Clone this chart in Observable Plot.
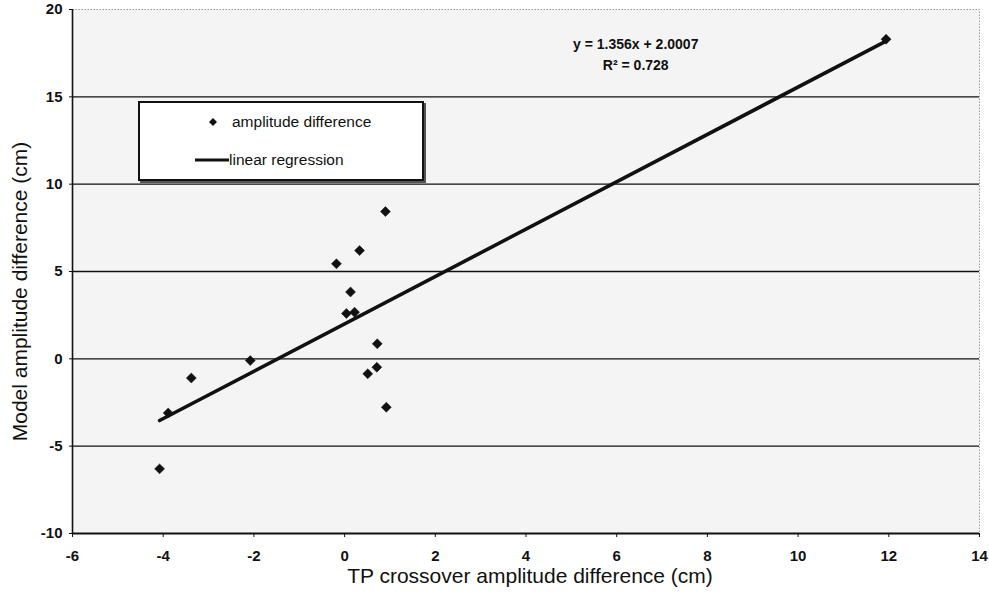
<!DOCTYPE html>
<html>
<head>
<meta charset="utf-8">
<script src="https://cdn.jsdelivr.net/npm/d3@7"></script>
<script src="https://cdn.jsdelivr.net/npm/@observablehq/plot@0.6"></script>
<style>
  html, body { margin: 0; padding: 0; background: #fff; }
  #wrap { position: relative; width: 989px; height: 603px; font-family: "Liberation Sans", Arial, sans-serif; }
  #chart g[aria-label="x-axis tick label"], #chart g[aria-label="y-axis tick label"] { font-size: 15px; font-weight: bold; }
  #legend {
    position: absolute; left: 138px; top: 101px; width: 282px; height: 76px;
    border: 2px solid #111; background: #fff; box-shadow: 2px 2px 0 #555;
    font-size: 15.5px; color: #111;
  }
  #legend .row { position: absolute; display: flex; align-items: center; }
  #legend svg { display: block; }
</style>
</head>
<body>
<div id="wrap">
  <div id="chart"></div>
  <div id="legend">
    <div class="row" style="left:64px; top:10px;">
      <svg width="18" height="14"><path d="M9,3 L13,7 L9,11 L5,7 Z" fill="#111"/></svg>
      <span style="margin-left:10px">amplitude difference</span>
    </div>
    <div class="row" style="left:55px; top:48px;">
      <svg width="34" height="10"><line x1="0" y1="5" x2="34" y2="5" stroke="#111" stroke-width="3"/></svg>
      <span>linear regression</span>
    </div>
  </div>
</div>
<script>
// Data
const xValues = [-4.08, -3.89, -3.38, -2.08, -0.18, 0.04, 0.13, 0.22, 0.33, 0.51, 0.71, 0.72, 0.90, 0.92, 11.94];
const yValues = [-6.3, -3.1, -1.1, -0.1, 5.44, 2.6, 3.83, 2.67, 6.2, -0.86, -0.48, 0.86, 8.43, -2.77, 18.3];
const slope = 1.356;
const intercept = 2.0007;
const rSquared = 0.728;
const xTicks = [-6, -4, -2, 0, 2, 4, 6, 8, 10, 12, 14];
const yTicks = [-10, -5, 0, 5, 10, 15, 20];
const gridValues = [-5, 0, 5, 10, 15];
const xLabel = "TP crossover amplitude difference (cm)";
const yLabel = "Model amplitude difference (cm)";

const points = xValues.map((x, i) => ({x, y: yValues[i]}));
const xMin = d3.min(xValues), xMax = d3.max(xValues);
const fitLine = [xMin, xMax].map(x => ({x, y: slope * x + intercept}));
const eqText = `y = ${slope}x + ${intercept}\nR² = ${rSquared}`;

const font = "Liberation Sans, Arial, sans-serif";

const chart = Plot.plot({
  width: 989,
  height: 603,
  marginLeft: 72,
  marginRight: 10,
  marginTop: 9,
  marginBottom: 70,
  style: { fontFamily: font, background: "#fff", color: "#111" },
  x: { domain: [-6, 14] },
  y: { domain: [-10, 20] },
  marks: [
    Plot.frame({ fill: "#f4f4f4", stroke: "#999", strokeDasharray: "1.5,1.5", strokeWidth: 1 }),
    Plot.ruleY(gridValues, { stroke: "#111", strokeWidth: 1.4 }),
    Plot.ruleY([-10], { stroke: "#111", strokeWidth: 2 }),
    Plot.ruleX([-6], { stroke: "#111", strokeWidth: 1.6 }),
    Plot.axisX({ ticks: xTicks, tickSize: 4, tickPadding: 13, label: null, tickFormat: d => String(d) }),
    Plot.axisY({ ticks: yTicks, tickSize: 3, tickPadding: 7, label: null, tickFormat: d => String(d) }),
    Plot.line(fitLine, { x: "x", y: "y", stroke: "#111", strokeWidth: 3.6 }),
    Plot.dot(points, { x: "x", y: "y", symbol: "diamond2", r: 4.5, fill: "#111", stroke: "#111", strokeWidth: 0.5 }),
    Plot.text([eqText], { x: () => 6.42, y: () => 17.5, text: d => d, fontSize: 14, fontWeight: "bold", lineHeight: 1.5, textAnchor: "middle", fill: "#111" }),
    Plot.text([xLabel], { frameAnchor: "bottom", dx: 4, dy: 49, text: d => d, fontSize: 21, fill: "#111" }),
    Plot.text([yLabel], { frameAnchor: "left", rotate: -90, dx: -52, dy: 20, textAnchor: "middle", text: d => d, fontSize: 21, fill: "#111" })
  ]
});
document.getElementById("chart").appendChild(chart);
</script>
</body>
</html>
